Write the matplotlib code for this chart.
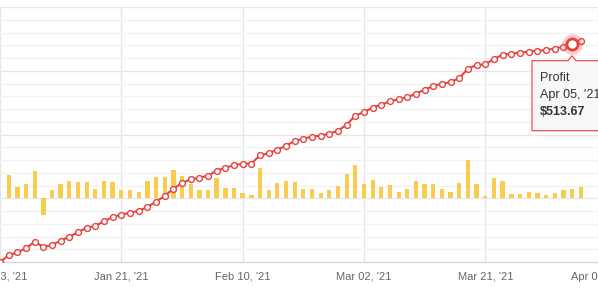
import matplotlib.pyplot as plt
import numpy as np
from matplotlib.path import Path
from matplotlib.patches import PathPatch

plt.rcParams['font.family'] = ['Liberation Sans', 'DejaVu Sans']

# cumulative profit ($), one point per trading day
profit = [0, 15.7, 22.7, 32.2, 47.8, 35.3, 40.0, 50.2, 59.6, 69.8, 80.8, 84.7,
          95.7, 105.9, 111.4, 116.1, 120.0, 129.4, 142.0, 155.3, 172.5, 185.9,
          194.5, 198.4, 203.1, 214.9, 222.0, 227.5, 231.4, 231.4, 251.0, 255.7,
          264.3, 273.7, 284.7, 290.2, 294.9, 297.3, 302.0, 309.0, 323.1, 344.3,
          352.9, 363.1, 370.2, 378.0, 382.7, 387.5, 396.1, 405.5, 414.1, 419.6,
          423.5, 432.9, 454.9, 463.5, 465.1, 477.6, 487.8, 490.2, 492.5, 494.9,
          497.3, 498.8, 502.0, 506.7, 513.67, 519.2]

# daily profit ($)
daily = [0, 14.6, 7.3, 8.8, 16.9, -10.3, 5.0, 8.8, 10.7, 10.0, 10.0, 5.6,
         10.7, 10.0, 5.0, 5.0, 3.8, 10.7, 13.2, 13.2, 17.6, 13.8, 8.8,
         5.0, 5.0, 12.6, 6.3, 6.3, 3.1, 1.9, 18.8, 5.0, 9.4, 10.7, 10.0, 5.6,
         5.6, 3.1, 5.0, 7.5, 15.1, 20.7, 8.8, 11.3, 6.9, 8.2,
         3.8, 5.6, 10.7, 8.8, 8.8, 5.6, 3.8, 9.4, 23.8, 8.8, 1.3, 12.6, 10.7,
         2.5, 2.5, 3.8, 3.1, 1.9, 3.1, 5.0, 5.6, 6.9]

tick_idx = [0, 14, 28, 42, 56, 69]
tick_labels = ["Jan 03, '21", "Jan 21, '21", "Feb 10, '21", "Mar 02, '21",
               "Mar 21, '21", "Apr 08, '21"]

hover_idx = 66
hover_date = "Apr 05, '21"

RED = '#e8413e'
YELLOW = '#f9cb4f'

x = np.arange(len(profit))

fig = plt.figure(figsize=(5.98, 2.88), dpi=100)
ax = fig.add_axes([0, 26 / 288, 1, 255 / 288])
ax2 = ax.twinx()

# bars (daily) on the lower axis, grid lives here
ax.bar(x, daily, width=0.5, color=YELLOW, zorder=2)

# line (cumulative) on top
ax2.plot(x, profit, color=RED, lw=1.5, marker='o', ms=4.2, mfc='white',
         mec=RED, mew=1, zorder=3)

# hovered point
ax2.plot(hover_idx, profit[hover_idx], 'o', ms=15, color=RED, alpha=0.25,
         mec='none', zorder=4)
ax2.plot(hover_idx, profit[hover_idx], 'o', ms=8, mfc='white', mec=RED,
         mew=2, zorder=5)

ax.set_ylim(-40, 120)
ax.set_yticks(np.arange(-40, 121, 40))
ax.set_yticks(np.arange(-40, 121, 8), minor=True)
ax2.set_ylim(0, 600)
xmax = 598 / 8.846
ax.set_xlim(0, xmax)
ax2.set_xlim(0, xmax)
ax.set_xticks(tick_idx)
ax.set_xticklabels(tick_labels)
ax.set_axisbelow(True)
ax.grid(True, which='major', color='#e6e6e6', lw=1)
ax.grid(True, which='minor', axis='y', color='#f2f2f2', lw=1)
ax.tick_params(axis='x', length=0, pad=7, labelsize=8, labelcolor='#666666')
ax.tick_params(axis='y', which='both', length=0, labelleft=False)
ax2.tick_params(axis='y', which='both', length=0, labelright=False)

for a in (ax, ax2):
    for s in ('top', 'left', 'right'):
        a.spines[s].set_visible(False)
    a.spines['bottom'].set_color('#ccd6eb')

# tooltip
fig.canvas.draw()
px, py = ax2.transData.transform((hover_idx, profit[hover_idx]))
H = 288
left, top, bottom, right = px - 40, py - 17, py - 87, px + 40
verts = [(left, bottom), (left, top), (px - 4, top), (px, top + 5),
         (px + 4, top), (right, top), (right, bottom), (left, bottom)]
codes = [Path.MOVETO] + [Path.LINETO] * 6 + [Path.CLOSEPOLY]
tip = PathPatch(Path(verts, codes), facecolor='#f7f7f7', edgecolor=RED,
                lw=0.8, transform=None, zorder=10)
fig.patches.append(tip)
shadow = PathPatch(Path([(vx + 1, vy - 1) for vx, vy in verts], codes),
                   facecolor='#000000', alpha=0.06, edgecolor='none',
                   transform=None, zorder=9)
fig.patches.insert(0, shadow)

tx = left + 8
fig.text(tx / 598, (top - 17) / H, 'Profit', fontsize=9, color='#333333',
         va='center', zorder=11)
fig.text(tx / 598, (top - 34.5) / H, hover_date, fontsize=9,
         color='#333333', va='center', zorder=11)
fig.text(tx / 598, (top - 51.5) / H, '$%.2f' % profit[hover_idx], fontsize=9,
         color='#333333', fontweight='bold', va='center', zorder=11)

fig.savefig('out.png', dpi=100)
